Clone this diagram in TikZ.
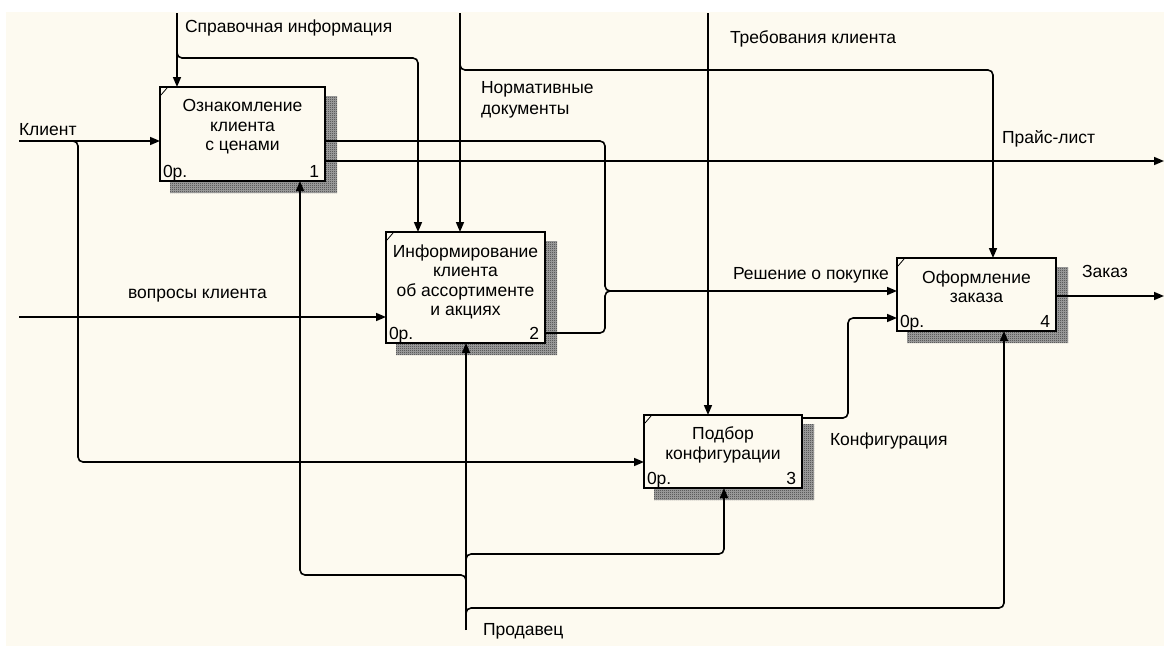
\documentclass[tikz,border=0pt]{standalone}
\usepackage{fontspec}
\setmainfont{Liberation Sans}
\usetikzlibrary{arrows.meta,calc,patterns}

% fine checkerboard used for the drop shadows of the function boxes
\pgfdeclarepatternformonly{dither}{\pgfpointorigin}{\pgfpoint{2pt}{2pt}}{\pgfpoint{2pt}{2pt}}{%
  \pgfpathrectangle{\pgfpointorigin}{\pgfpoint{1.1pt}{1.1pt}}%
  \pgfpathrectangle{\pgfpoint{1pt}{1pt}}{\pgfpoint{1.1pt}{1.1pt}}%
  \pgfusepath{fill}}

\definecolor{paper}{RGB}{253,250,240}
\pgfdeclarelayer{background}
\pgfsetlayers{background,main}

\begin{document}
\begin{tikzpicture}[x=1pt,y=-1pt,
  every node/.style={inner sep=0pt, outer sep=0pt},
  txt/.style={font=\fontsize{17.5pt}{19.5pt}\selectfont},
  func/.style={draw, line width=1.4pt, fill=paper, anchor=north west},
  wire/.style={line width=1.6pt, rounded corners=5pt},
  flow/.style={wire, -{Triangle[length=10pt,width=8pt]}},
  tick/.style={line width=0.8pt},
  shadebase/.style={fill=black!35},
  shade/.style={pattern=dither, pattern color=black!80}
]
\useasboundingbox (0,0) rectangle (1164,646);
\begin{pgfonlayer}{background}
  \fill[white] (0,0) rectangle (1164,646);
  \fill[paper] (6,12) rectangle (1164,646);
\end{pgfonlayer}

% function boxes
\node[func, minimum width=165pt, minimum height=94pt]  (b1) at (160,87)  {};
\node[func, minimum width=159pt, minimum height=111pt] (b2) at (386,232) {};
\node[func, minimum width=158pt, minimum height=73pt]  (b3) at (644,415) {};
\node[func, minimum width=159pt, minimum height=73pt]  (b4) at (897,258) {};

% shadows, corner ticks, reference labels
\begin{pgfonlayer}{background}
\foreach \b in {b1,b2,b3,b4}{
  \path[shadebase, postaction={shade}] ($(\b.south west)+(10,1)$) -- ($(\b.south east)+(1,1)$)
    -- ($(\b.north east)+(1,9)$) -- ++(11,0) -- ($(\b.south east)+(12,12)$)
    -- ($(\b.south west)+(10,12)$) -- cycle;
}
\end{pgfonlayer}
\foreach \b/\n in {b1/1,b2/2,b3/3,b4/4}{
  \draw[tick] ($(\b.north west)+(1,8)$) -- ++(6,-7);
  \node[txt, anchor=base west] (\b op) at ($(\b.south west)+(3,-4)$) {0р.};
  \node[txt, anchor=base east] (\b no) at ($(\b.south east)+(-6,-4)$) {\n};
}

% box titles
\node[txt, align=center, anchor=north] (t1) at ($(b1.north)+(0,12.5)$) {Ознакомление\\клиента\\с ценами};
\node[txt, align=center, anchor=north] (t2) at ($(b2.north)+(0,12.5)$) {Информирование\\клиента\\об ассортименте\\и акциях};
\node[txt, align=center, anchor=north] (t3) at ($(b3.north)+(0,12)$) {Подбор\\конфигурации};
\node[txt, align=center, anchor=north] (t4) at ($(b4.north)+(0,12.5)$) {Оформление\\заказа};

% ports on the boxes
\coordinate (b1c)  at ($(b1.north west)+(17,0)$);
\coordinate (b1i)  at ($(b1.north west)+(0,54)$);
\coordinate (b1o1) at ($(b1.north east)+(0,74)$);
\coordinate (b1o2) at ($(b1.north east)+(0,54)$);
\coordinate (b1m)  at ($(b1.south west)+(140,0)$);

\coordinate (b2c1) at ($(b2.north west)+(32,0)$);
\coordinate (b2c2) at ($(b2.north west)+(74,0)$);
\coordinate (b2i)  at ($(b2.north west)+(0,85)$);
\coordinate (b2o)  at ($(b2.north east)+(0,101)$);
\coordinate (b2m)  at ($(b2.south west)+(80,0)$);

\coordinate (b3c)  at ($(b3.north west)+(64,0)$);
\coordinate (b3i)  at ($(b3.north west)+(0,47)$);
\coordinate (b3o)  at ($(b3.north east)+(0,3)$);
\coordinate (b3m)  at ($(b3.south west)+(80,0)$);

\coordinate (b4c)  at ($(b4.north west)+(96,0)$);
\coordinate (b4i1) at ($(b4.north west)+(0,33)$);
\coordinate (b4i2) at ($(b4.north west)+(0,60)$);
\coordinate (b4o)  at ($(b4.north east)+(0,38)$);
\coordinate (b4m)  at ($(b4.south west)+(107,0)$);

% free ends and junctions
\coordinate (kl)   at (19,141);
\coordinate (klj)  at (73,141);
\coordinate (vq)   at (19,317);
\coordinate (sp)   at (177,13);
\coordinate (spj)  at (177,52);
\coordinate (nd)   at (460,13);
\coordinate (ndj)  at (460,64);
\coordinate (tr)   at (708,13);
\coordinate (pl)   at (1164,161);
\coordinate (zk)   at (1164,296);
\coordinate (rj)   at (605,291);
\coordinate (pr)   at (466,630);
\coordinate (prj1) at (466,585);
\coordinate (prj2) at (466,562);
\coordinate (prj3) at (466,616);

% inputs
\draw[flow] (kl) -- (b1i);
\draw[flow] (klj) -- ++(5,0) |- (b3i);
\draw[flow] (vq) -- (b2i);

% controls
\draw[flow] (sp) -- (b1c);
\draw[flow] (spj) -- ++(0,6) -| (b2c1);
\draw[flow] (nd) -- (b2c2);
\draw[flow] (ndj) -- ++(0,6) -| (b4c);
\draw[flow] (tr) -- (b3c);

% outputs
\draw[flow] (b1o1) -- (pl);
\draw[flow] (b1o2) -| (rj) -- (b4i1);
\draw[wire] (b2o) -| (rj) -- ++(8,0);
\draw[flow] (b3o) -- ++(46,0) |- (b4i2);
\draw[flow] (b4o) -- (zk);

% mechanisms
\draw[flow] (pr) -- (b2m);
\draw[flow] (prj1) -- ++(0,-10) -| (b1m);
\draw[flow] (prj2) -- ++(0,-8) -| (b3m);
\draw[flow] (prj3) -- ++(0,-8) -| (b4m);

% arrow labels
\node[txt, anchor=base west] (lsp) at (185,32)  {Справочная информация};
\node[txt, anchor=base west] (lkl) at (19,135)  {Клиент};
\node[txt, anchor=base west] (ltr) at (730,43)  {Требования клиента};
\node[txt, anchor=north west, align=left, font=\fontsize{17.5pt}{21pt}\selectfont] (lnd) at (481,81) {Нормативные\\документы};
\node[txt, anchor=base west] (lvq) at (128,298) {вопросы клиента};
\node[txt, anchor=base west] (lrs) at (733,279) {Решение о покупке};
\node[txt, anchor=base west] (lpl) at (1002,143) {Прайс-лист};
\node[txt, anchor=base west] (lzk) at (1082,277) {Заказ};
\node[txt, anchor=base west] (lkf) at (830,445) {Конфигурация};
\node[txt, anchor=base west] (lpr) at (483,635) {Продавец};
\end{tikzpicture}
\end{document}
